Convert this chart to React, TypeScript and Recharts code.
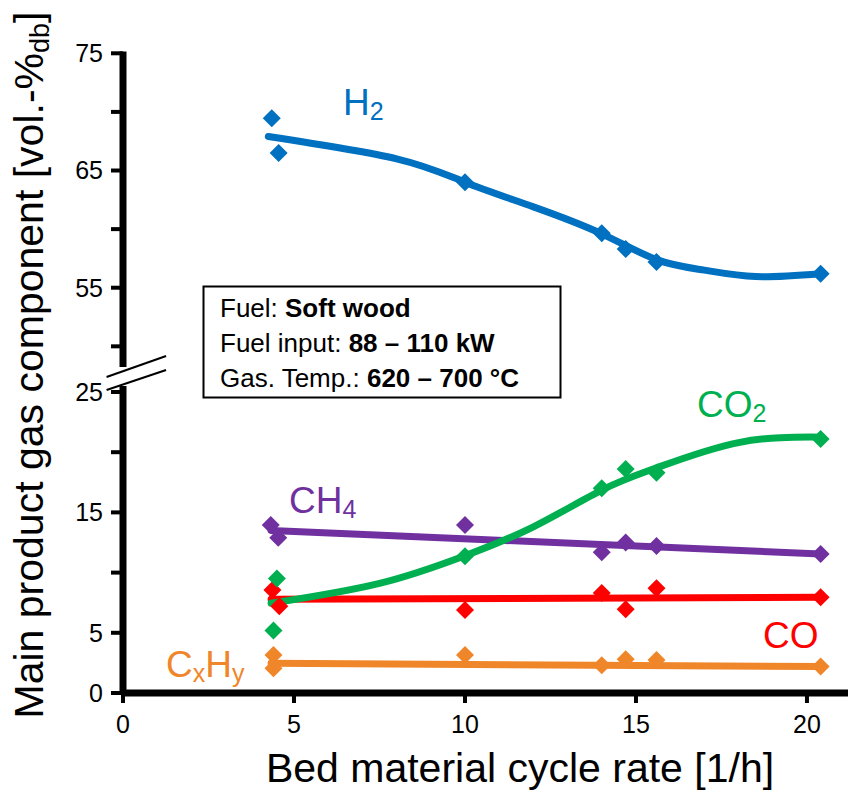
import React from 'react';
import { ComposedChart, Line, Scatter, XAxis, YAxis, ReferenceLine } from 'recharts';

const h2Rate = [4.35, 4.55, 10.0, 14.0, 14.7, 15.6, 20.4];
const h2Measured = [69.45, 66.5, 64.0, 59.65, 58.3, 57.2, 56.2];
const co2Rate = [4.5, 4.4, 10.0, 14.0, 14.7, 15.6, 20.4];
const co2Measured = [9.5, 5.2, 11.35, 17.0, 18.6, 18.3, 21.1];
const ch4Rate = [4.32, 4.54, 10.0, 14.0, 14.7, 15.6, 20.4];
const ch4Measured = [13.95, 12.9, 13.95, 11.7, 12.5, 12.2, 11.55];
const coRate = [4.37, 4.57, 10.0, 14.0, 14.7, 15.6, 20.4];
const coMeasured = [8.55, 7.2, 6.9, 8.3, 6.95, 8.7, 7.95];
const cxhyRate = [4.4, 4.4, 10.0, 14.0, 14.7, 15.6, 20.4];
const cxhyMeasured = [3.15, 2.05, 3.15, 2.3, 2.8, 2.75, 2.2];

// trend lines as drawn in the figure
const h2FitRate = [4.25, 8, 10, 12, 14, 15.6, 17, 18.5, 20.4];
const h2Fit = [67.9, 66.0, 64.0, 61.9, 59.6, 57.4, 56.5, 55.95, 56.2];
const co2FitRate = [4.33, 7.5, 10, 12, 14, 15.6, 18, 20.4];
const co2Fit = [7.45, 9.1, 11.4, 13.8, 16.85, 18.7, 20.8, 21.25];
const ch4FitRate = [4.33, 20.4];
const ch4Fit = [13.5, 11.55];
const coFitRate = [4.33, 20.4];
const coFit = [7.78, 7.95];
const cxhyFitRate = [4.33, 20.4];
const cxhyFit = [2.47, 2.2];

const xTicks = [0, 5, 10, 15, 20];
const lowerTicks = [0, 5, 10, 15, 20, 25];
const upperTicks = [50, 55, 60, 65, 70, 75];
const labelledTicks = [0, 5, 15, 25, 55, 65, 75];

const colors = {
  h2: '#0070C0',
  co2: '#00B050',
  ch4: '#7030A0',
  co: '#FF0000',
  cxhy: '#F0862A',
};

const FONT = '"Liberation Sans", Arial, sans-serif';

// broken axis: 0-25 kept as is, 50-75 pushed down under it
const breakY = (v: number) => (v <= 25 ? v : 33.66 + (v - 55) * 0.9735);

const toPoints = (xs: number[], ys: number[]) => xs.map((x, i) => ({ x, y: breakY(ys[i]) }));

const yTickValues = [...lowerTicks, ...upperTicks.map(breakY)];
const yTickLabels = [...lowerTicks, ...upperTicks];

const formatY = (t: number) => {
  let idx = 0;
  yTickValues.forEach((v, i) => {
    if (Math.abs(v - t) < Math.abs(yTickValues[idx] - t)) idx = i;
  });
  const real = yTickLabels[idx];
  return labelledTicks.includes(real) ? String(real) : '';
};

const Diamond = (props: any) => {
  const { cx, cy, fill } = props;
  if (cx == null || cy == null) return null;
  const r = 9;
  return <path d={`M${cx},${cy - r} L${cx + r},${cy} L${cx},${cy + r} L${cx - r},${cy} Z`} fill={fill} />;
};

const series = [
  { key: 'cxhy', pts: toPoints(cxhyRate, cxhyMeasured), fit: toPoints(cxhyFitRate, cxhyFit), type: 'linear' },
  { key: 'co', pts: toPoints(coRate, coMeasured), fit: toPoints(coFitRate, coFit), type: 'linear' },
  { key: 'ch4', pts: toPoints(ch4Rate, ch4Measured), fit: toPoints(ch4FitRate, ch4Fit), type: 'linear' },
  { key: 'h2', pts: toPoints(h2Rate, h2Measured), fit: toPoints(h2FitRate, h2Fit), type: 'natural' },
  { key: 'co2', pts: toPoints(co2Rate, co2Measured), fit: toPoints(co2FitRate, co2Fit), type: 'natural' },
] as const;

export default function App() {
  return (
    <div style={{ position: 'absolute', left: 0, top: 0, width: 860, height: 795, background: '#fff' }}>
      <ComposedChart
        width={860}
        height={795}
        margin={{ top: 53.3, right: 12, bottom: 72, left: 0 }}
        style={{ fontFamily: FONT }}
      >
        <XAxis
          type="number"
          dataKey="x"
          domain={[0, 21.2]}
          ticks={xTicks}
          height={30}
          axisLine={{ stroke: '#000', strokeWidth: 7 }}
          tickLine={{ stroke: '#000', strokeWidth: 4 }}
          tickSize={10}
          tickMargin={12}
          tick={{ fill: '#000', fontSize: 25, fontFamily: FONT }}
        />
        <YAxis
          type="number"
          dataKey="y"
          domain={[0, breakY(75)]}
          allowDataOverflow
          ticks={yTickValues}
          tickFormatter={formatY}
          width={123}
          axisLine={false}
          tickLine={{ stroke: '#000', strokeWidth: 4 }}
          tickSize={12}
          tickMargin={8}
          tick={{ fill: '#000', fontSize: 25, fontFamily: FONT }}
        />
        {/* y axis in two pieces with the break marks */}
        <ReferenceLine
          segment={[{ x: 0, y: 0 }, { x: 0, y: 25.5 }]}
          stroke="#000"
          strokeWidth={7}
          ifOverflow="visible"
        />
        <ReferenceLine
          segment={[{ x: 0, y: 27.08 }, { x: 0, y: breakY(75) + 0.15 }]}
          stroke="#000"
          strokeWidth={7}
          ifOverflow="visible"
        />
        <ReferenceLine
          segment={[{ x: -0.48, y: 26.25 }, { x: 1.26, y: 27.99 }]}
          stroke="#000"
          strokeWidth={2}
          ifOverflow="visible"
        />
        <ReferenceLine
          segment={[{ x: -0.48, y: 25.17 }, { x: 1.26, y: 26.83 }]}
          stroke="#000"
          strokeWidth={2}
          ifOverflow="visible"
        />
        {series.map((s) => (
          <Line
            key={`${s.key}-fit`}
            data={s.fit as any}
            dataKey="y"
            type={s.type as any}
            stroke={(colors as any)[s.key]}
            strokeWidth={7}
            strokeLinecap="round"
            dot={false}
            activeDot={false}
            isAnimationActive={false}
          />
        ))}
        {series.map((s) => (
          <Scatter
            key={`${s.key}-pts`}
            data={s.pts as any}
            dataKey="y"
            fill={(colors as any)[s.key]}
            shape={<Diamond />}
            isAnimationActive={false}
          />
        ))}
      </ComposedChart>

      <svg
        width={860}
        height={795}
        style={{ position: 'absolute', left: 0, top: 0, pointerEvents: 'none', fontFamily: FONT }}
      >
        {/* series labels */}
        <text x={343} y={115} fontSize={37} fill={colors.h2}>
          H<tspan fontSize={25} dy={5}>2</tspan>
        </text>
        <text x={697} y={417} fontSize={37} fill={colors.co2}>
          CO<tspan fontSize={25} dy={5}>2</tspan>
        </text>
        <text x={289} y={513} fontSize={37} fill={colors.ch4}>
          CH<tspan fontSize={25} dy={5}>4</tspan>
        </text>
        <text x={763} y={648} fontSize={37} fill={colors.co}>
          CO
        </text>
        <text x={166} y={677} fontSize={37} fill={colors.cxhy}>
          C<tspan fontSize={25} dy={5}>x</tspan>
          <tspan fontSize={37} dy={-5}>H</tspan>
          <tspan fontSize={25} dy={5}>y</tspan>
        </text>

        {/* info box */}
        <rect x={203.5} y={286.5} width={357} height={111} fill="#fff" stroke="#000" strokeWidth={2} />
        <text x={220} y={317} fontSize={26} fill="#000">
          Fuel: <tspan fontWeight="bold">Soft wood</tspan>
        </text>
        <text x={220} y={352} fontSize={26} fill="#000">
          Fuel input: <tspan fontWeight="bold">88 – 110 kW</tspan>
        </text>
        <text x={220} y={387} fontSize={26} fill="#000">
          Gas. Temp.: <tspan fontWeight="bold">620 – 700 °C</tspan>
        </text>

        {/* axis titles */}
        <text x={520} y={782} fontSize={41} fill="#000" textAnchor="middle">
          Bed material cycle rate [1/h]
        </text>
        <text x={43} y={365} fontSize={41} fill="#000" textAnchor="middle" transform="rotate(-90, 43, 365)">
          Main product gas component [vol.-%<tspan fontSize={27} dy={6}>db</tspan>
          <tspan dy={-6}>]</tspan>
        </text>
      </svg>
    </div>
  );
}
